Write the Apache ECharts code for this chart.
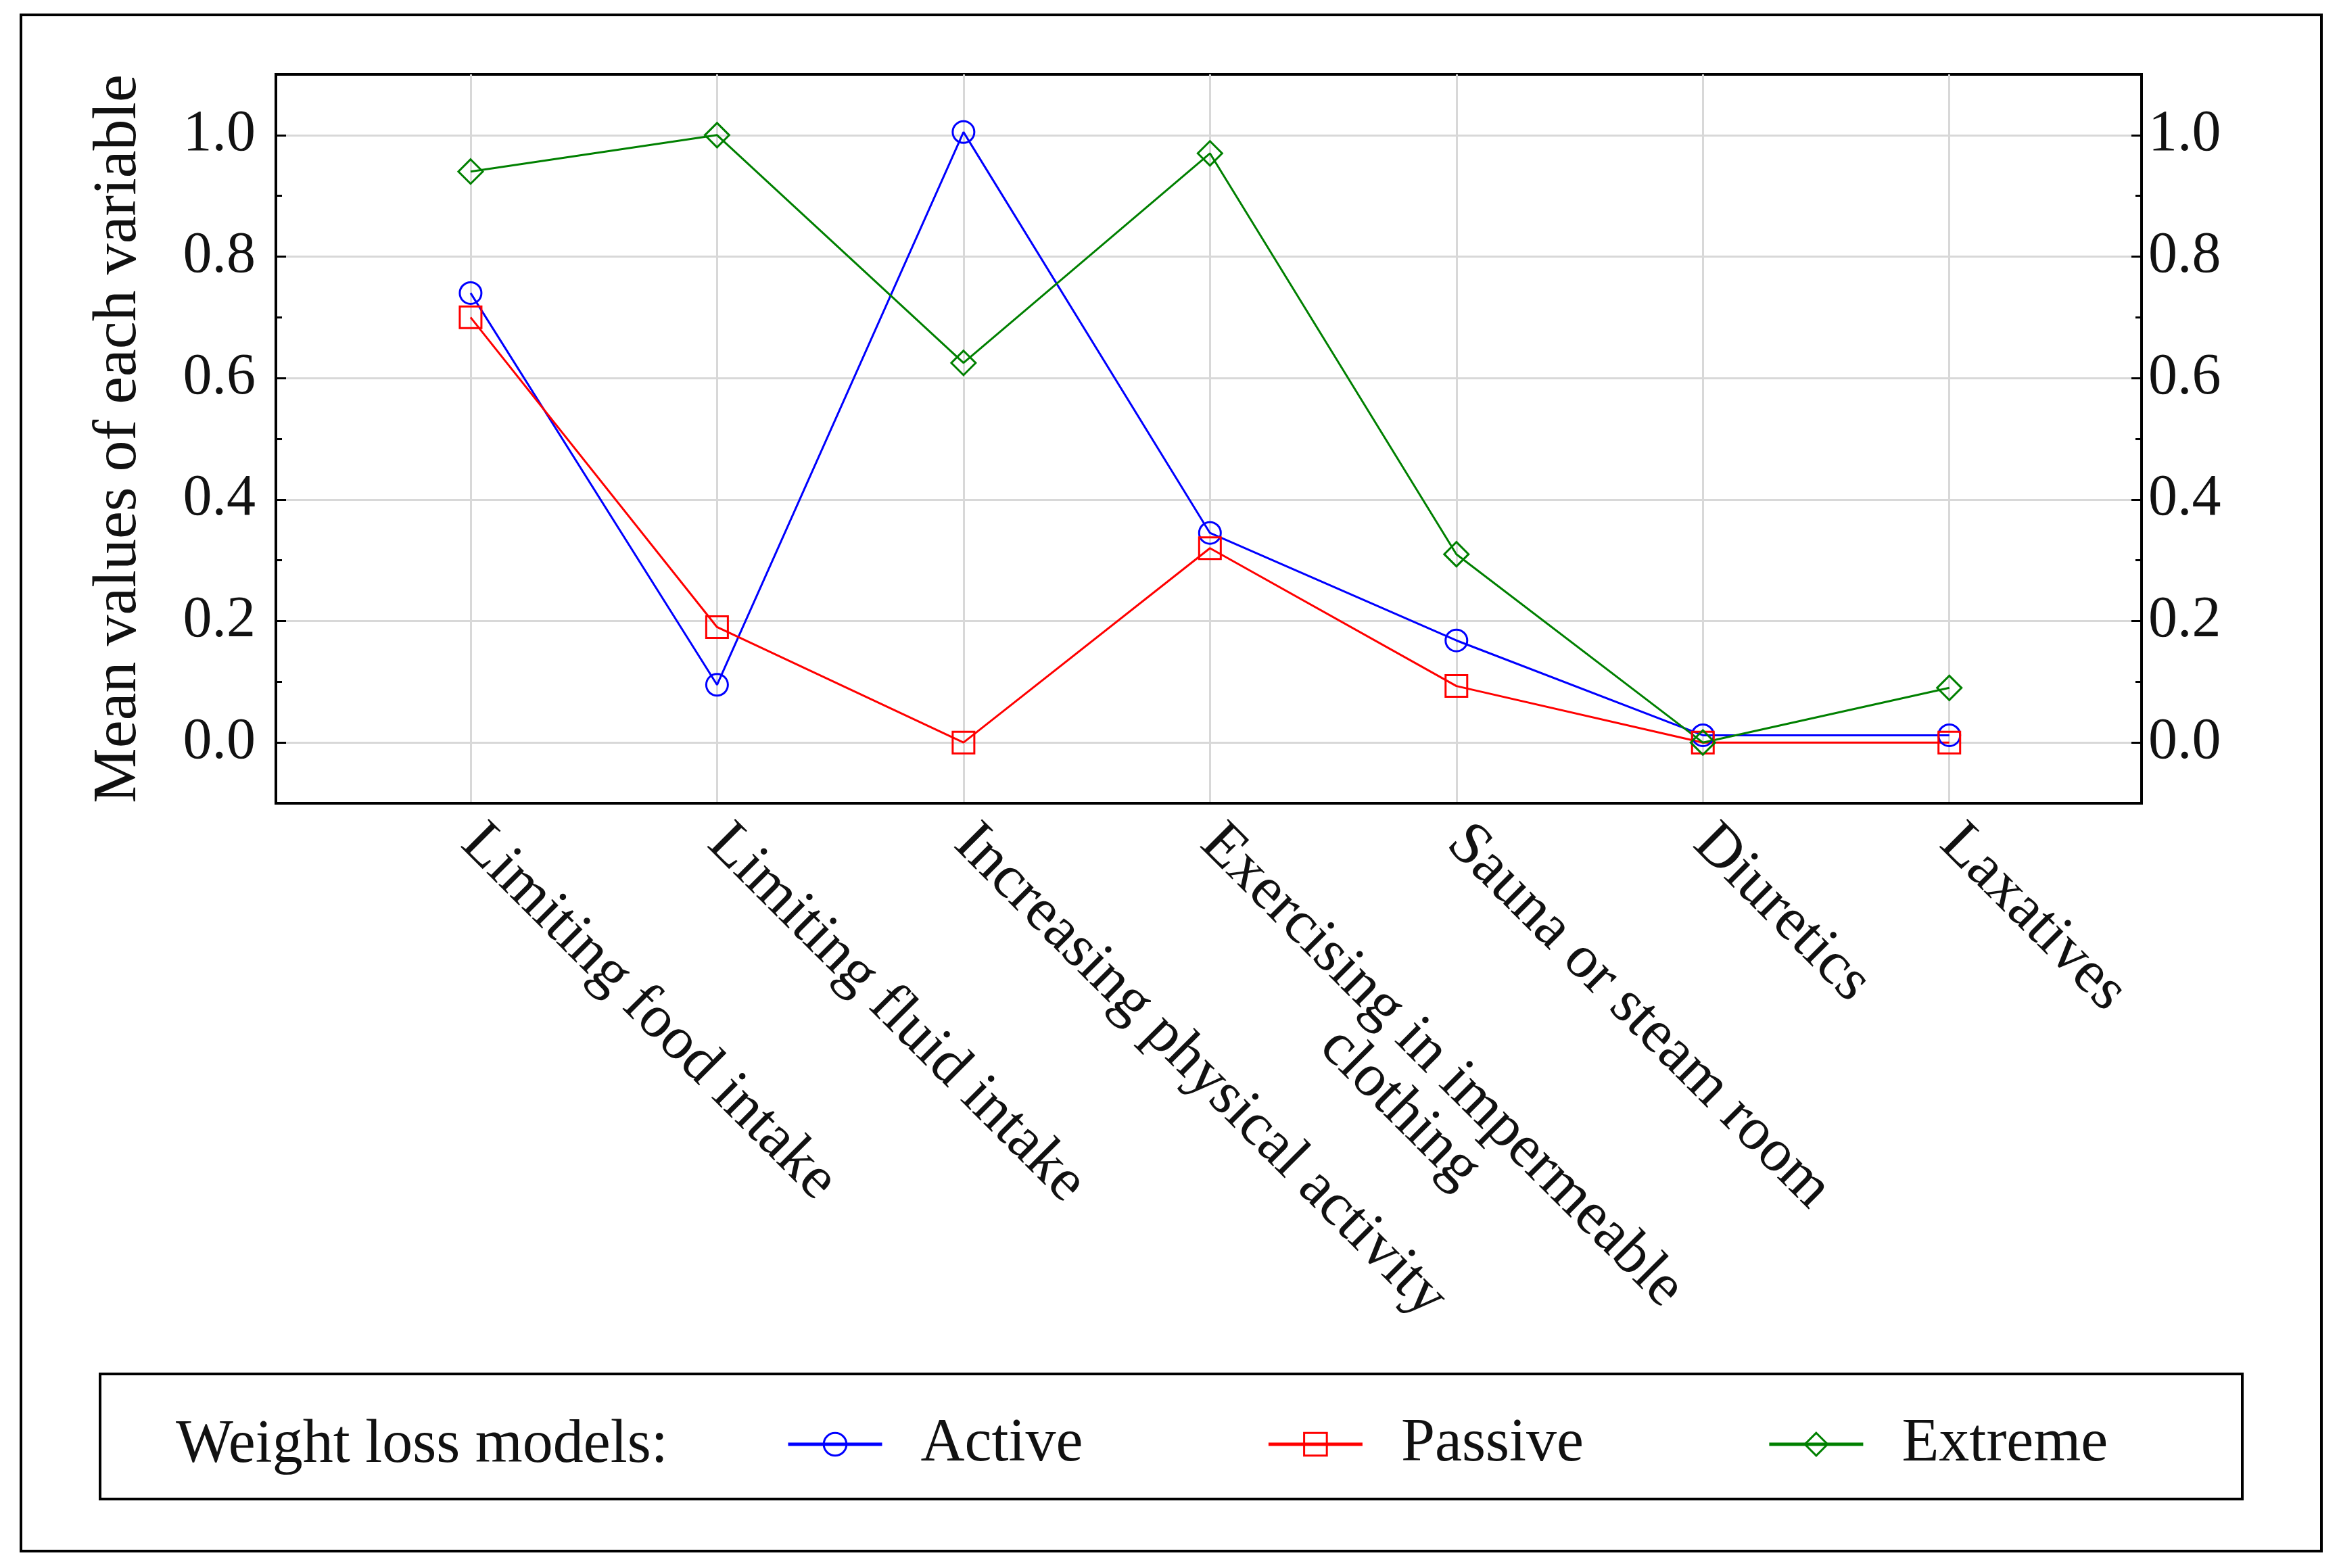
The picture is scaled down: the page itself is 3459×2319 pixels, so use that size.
<!DOCTYPE html>
<html>
<head>
<meta charset="utf-8">
<script src="https://cdn.jsdelivr.net/npm/echarts@6/dist/echarts.min.js"></script>
<style>html,body{margin:0;padding:0;background:#fff;}#c{width:3459px;height:2319px;}</style>
</head>
<body>
<div id="c"></div>
<script>
var categories = ['Limiting food intake', 'Limiting fluid intake', 'Increasing physical activity', 'Exercising in impermeable\nclothing', 'Sauna or steam room', 'Diuretics', 'Laxatives'];
var activeValues = [0.74, 0.095, 1.005, 0.345, 0.168, 0.012, 0.012];
var passiveValues = [0.70, 0.19, 0.0, 0.32, 0.093, 0.0, 0.0];
var extremeValues = [0.94, 1.0, 0.625, 0.97, 0.31, 0.0, 0.09];
var yMajorTicks = [0, 0.2, 0.4, 0.6, 0.8, 1.0];
var yMinorTicks = [0.1, 0.3, 0.5, 0.7, 0.9];
var seriesNames = ['Active', 'Passive', 'Extreme'];
var legendTitle = 'Weight loss models:';
var yAxisTitle = 'Mean values of each variable';

var FONT = '"Liberation Serif", "Times New Roman", serif';
var catIdx = categories.map(function (c, i) { return i; });

function catLabel(v) {
  var name = categories[Math.round(v)] || '';
  var lines = name.split('\n');
  if (lines.length > 1) {
    return '{c| }\n' + lines.map(function (l) { return '{c|' + l + '}'; }).join('\n');
  }
  return name;
}

function yAxisDef(pos, major, withLabels) {
  return {
    type: 'value', position: pos, min: -0.1, max: 1.1,
    axisLine: { show: major, onZero: false, lineStyle: { color: '#000', width: 4 } },
    axisTick: { show: true, inside: true, length: major ? 15 : 9, customValues: major ? yMajorTicks : yMinorTicks, lineStyle: { color: '#000', width: 3 } },
    axisLabel: { show: withLabels, customValues: yMajorTicks, margin: pos === 'left' ? 30 : 10, color: '#111', fontSize: 86, fontFamily: FONT, formatter: function (v) { return v.toFixed(1); } },
    splitLine: { show: major && pos === 'left', lineStyle: { color: '#d8d8d8', width: 3 } }
  };
}

var yLeft = yAxisDef('left', true, true);
yLeft.name = yAxisTitle;
yLeft.nameLocation = 'middle';
yLeft.nameGap = 186;
yLeft.nameTextStyle = { color: '#111', fontSize: 92, fontFamily: FONT };

function mkSeries(name, vals, color, symbol, size) {
  return {
    name: name, type: 'line', yAxisIndex: 0,
    data: vals.map(function (v, i) { return [catIdx[i], v]; }),
    symbol: symbol, symbolSize: size, showAllSymbol: true,
    lineStyle: { color: color, width: 3 },
    itemStyle: { color: 'rgba(255,255,255,0)', borderColor: color, borderWidth: 3 },
    emphasis: { disabled: true },
    animation: false
  };
}

var chart = echarts.init(document.getElementById('c'), null, { renderer: 'canvas' });
chart.setOption({
  backgroundColor: '#fff',
  animation: false,
  grid: { left: 408, right: 292, top: 110, bottom: 1131, show: true, borderColor: '#000', borderWidth: 4, backgroundColor: 'transparent' },
  xAxis: {
    type: 'value', min: -0.79, max: 6.78,
    axisLine: { show: true, onZero: false, lineStyle: { color: '#000', width: 4 } },
    axisTick: { show: false, customValues: catIdx },
    axisLabel: {
      customValues: catIdx, rotate: -45, margin: 46, color: '#111', fontSize: 90, fontFamily: FONT,
      lineHeight: 88, formatter: catLabel,
      rich: { c: { align: 'center', fontSize: 90, fontFamily: FONT, color: '#111', lineHeight: 88 } }
    },
    splitLine: { show: true, lineStyle: { color: '#d8d8d8', width: 3 } }
  },
  yAxis: [yLeft, yAxisDef('left', false, false), yAxisDef('right', true, true), yAxisDef('right', false, false)],
  legend: {
    left: 1158, top: 2086, orient: 'horizontal',
    itemWidth: 139, itemHeight: 42, itemGap: 272,
    data: seriesNames,
    lineStyle: { width: 5 },
    itemStyle: { borderWidth: 3 },
    textStyle: { color: '#111', fontSize: 90, fontFamily: FONT, padding: [0, 0, 0, 52] },
    selectedMode: false
  },
  graphic: [
    { type: 'rect', silent: true, shape: { x: 31, y: 22, width: 3402, height: 2272 }, style: { fill: 'none', stroke: '#000', lineWidth: 4 } },
    { type: 'rect', silent: true, shape: { x: 148, y: 2032, width: 3168, height: 185 }, style: { fill: 'none', stroke: '#000', lineWidth: 4 } },
    { type: 'text', silent: true, x: 260, y: 2138, style: { text: legendTitle, font: '90px ' + FONT, fill: '#111', align: 'left', verticalAlign: 'middle' } }
  ],
  series: [
    mkSeries(seriesNames[0], activeValues, '#0000ff', 'circle', 32),
    mkSeries(seriesNames[1], passiveValues, '#ff0000', 'rect', 32),
    mkSeries(seriesNames[2], extremeValues, '#008000', 'diamond', 36)
  ]
});
</script>
</body>
</html>
